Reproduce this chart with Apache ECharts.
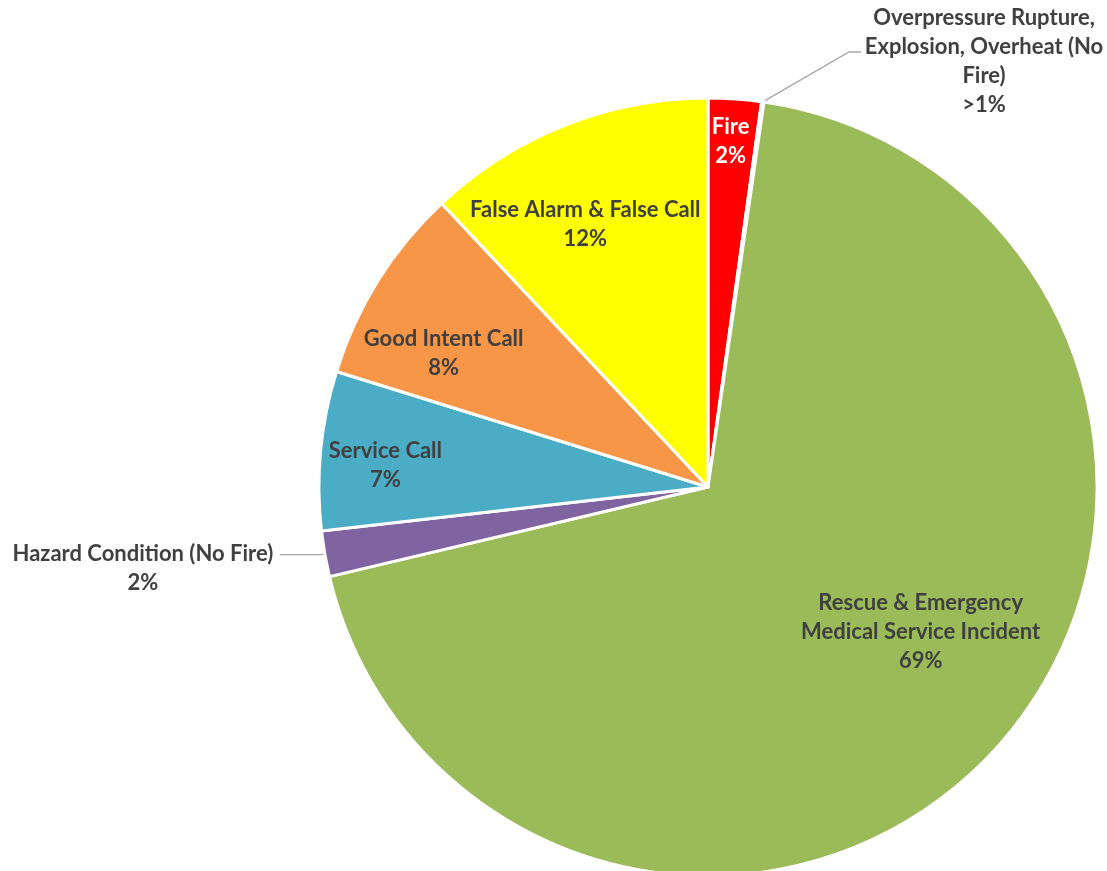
<!DOCTYPE html>
<html>
<head>
<meta charset="utf-8">
<script src="https://cdn.jsdelivr.net/npm/echarts@6/dist/echarts.min.js"></script>
<style>
  html, body { margin: 0; padding: 0; background: #ffffff; }
  #chart { width: 1107px; height: 871px; }
</style>
</head>
<body>
<div id="chart"></div>
<script>
// ---- data ----
const categories = [
  'Fire',
  'Overpressure Rupture, Explosion, Overheat (No Fire)',
  'Rescue & Emergency Medical Service Incident',
  'Hazard Condition (No Fire)',
  'Service Call',
  'Good Intent Call',
  'False Alarm & False Call'
];
const values = [2.2, 0.1, 69.0, 1.9, 6.6, 8.2, 12.0];
const percentLabels = ['2%', '>1%', '69%', '2%', '7%', '8%', '12%'];
const labelLines = [
  ['Fire'],
  ['Overpressure Rupture,', 'Explosion, Overheat (No', 'Fire)'],
  ['Rescue & Emergency', 'Medical Service Incident'],
  ['Hazard Condition (No Fire)'],
  ['Service Call'],
  ['Good Intent Call'],
  ['False Alarm & False Call']
];
const colors = ['#FF0000', '#4F81BD', '#9BBB59', '#8064A2', '#4BACC6', '#F79646', '#FFFF00'];

// ---- styling / layout config ----
const FONT = 'Lato, "Open Sans", sans-serif';
const TEXT = '#404040';
const FS = 22;
const LH = 29;
const outsideIdx = { 1: 'op', 3: 'hz' };
// nudges of inside labels away from the library's default inside spot
const insideNudge = { 0: [9, -149], 2: [67, 12], 4: [-126, -3], 5: [-97, -29], 6: [-50, -79] };

const data = categories.map(function (c, i) {
  const item = { name: c, value: values[i], itemStyle: { color: colors[i] } };
  if (i === 0) item.label = { color: '#ffffff' };
  if (i === 1) {
    item.label = { position: 'outside', padding: [18, 0, 0, 0] };
    item.labelLine = { show: true, length: 10, length2: 12 };
  }
  if (i === 3) {
    item.label = { position: 'outside', padding: [27, 0, 0, 0] };
    item.labelLine = { show: true, length: 4, length2: 41 };
  }
  return item;
});

const chart = echarts.init(document.getElementById('chart'), null, { renderer: 'canvas' });
chart.setOption({
  animation: false,
  series: [{
    type: 'pie',
    center: [708, 487],
    radius: 389,
    startAngle: 90,
    clockwise: true,
    avoidLabelOverlap: false,
    itemStyle: { borderColor: '#ffffff', borderWidth: 3 },
    label: {
      show: true,
      position: 'inside',
      fontFamily: FONT,
      fontWeight: 'bold',
      fontSize: FS,
      lineHeight: LH,
      color: TEXT,
      bleedMargin: 2,
      formatter: function (p) {
        const i = p.dataIndex;
        const lines = labelLines[i].concat([percentLabels[i]]);
        const key = outsideIdx[i];
        if (key) return lines.map(function (l) { return '{' + key + '|' + l + '}'; }).join('\n');
        return lines.join('\n');
      },
      rich: {
        op: { width: 246, align: 'center', fontFamily: FONT, fontWeight: 'bold', fontSize: FS, lineHeight: LH, color: TEXT },
        hz: { width: 264, align: 'center', fontFamily: FONT, fontWeight: 'bold', fontSize: FS, lineHeight: LH, color: TEXT }
      }
    },
    labelLine: { show: true, lineStyle: { color: '#A6A6A6', width: 1.3 } },
    labelLayout: function (p) {
      const i = p.dataIndex;
      if (i === 1) return { x: 861, y: 52, align: 'left', verticalAlign: 'middle' };
      const n = insideNudge[i];
      if (n) return { dx: n[0], dy: n[1] };
      return {};
    },
    data: data
  }]
});
</script>
</body>
</html>
